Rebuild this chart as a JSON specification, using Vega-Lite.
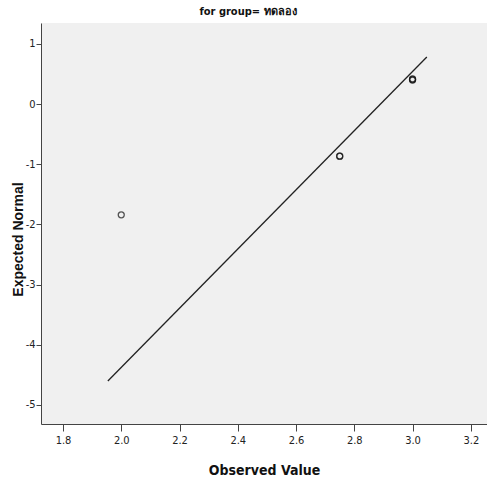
{
  "$schema": "https://vega.github.io/schema/vega-lite/v6.json",
  "width": 446,
  "height": 401,
  "autosize": {"type": "none"},
  "padding": {"left": 41, "top": 23, "right": 0, "bottom": 60},
  "background": "white",
  "config": {
    "view": {"fill": "#f0f0f0", "stroke": null},
    "axis": {"grid": false, "domainColor": "#444444", "tickColor": "#444444", "labelFont": "DejaVu Sans Condensed", "labelFontSize": 11, "labelColor": "#222222", "titleColor": "#111111"}
  },
  "title": {"text": "for group= ทดลอง", "font": "DejaVu Sans Condensed", "fontSize": 11, "fontWeight": "bold", "color": "#111111", "offset": 6, "dx": -16},
  "datasets": {
    "points": [
      {"observed": 2.0, "expected": -1.84},
      {"observed": 2.75, "expected": -0.865},
      {"observed": 2.75, "expected": -0.865},
      {"observed": 3.0, "expected": 0.42},
      {"observed": 3.0, "expected": 0.40},
      {"observed": 3.0, "expected": 0.41}
    ],
    "refline": [
      {"observed": 1.954, "expected": -4.6},
      {"observed": 3.049, "expected": 0.784}
    ]
  },
  "layer": [
    {
      "data": {"name": "refline"},
      "mark": {"type": "line", "color": "#222222", "strokeWidth": 1.3},
      "encoding": {
        "x": {"field": "observed", "type": "quantitative", "scale": {"domain": [1.7245, 3.2556], "nice": false, "zero": false},
          "axis": {"values": [1.8, 2.0, 2.2, 2.4, 2.6, 2.8, 3.0, 3.2], "format": ".1f", "tickSize": 7, "labelPadding": 3, "title": "Observed Value", "titleFont": "DejaVu Sans Condensed", "titleFontSize": 14, "titleFontWeight": "bold", "titlePadding": 18}},
        "y": {"field": "expected", "type": "quantitative", "scale": {"domain": [-5.316, 1.349], "nice": false, "zero": false},
          "axis": {"values": [-5, -4, -3, -2, -1, 0, 1], "labelExpr": "(datum.value < 0 ? '-' : '') + abs(datum.value)", "tickSize": 5, "labelPadding": 1, "title": "Expected Normal", "titleFont": "Liberation Sans", "titleFontSize": 14, "titleFontWeight": "bold", "titleX": -16, "titleY": 216}}
      }
    },
    {
      "data": {"name": "points"},
      "mark": {"type": "point", "shape": "circle", "filled": false, "color": "#111111", "size": 36, "strokeWidth": 1.3},
      "encoding": {
        "x": {"field": "observed", "type": "quantitative"},
        "y": {"field": "expected", "type": "quantitative"}
      }
    },
    {
      "mark": {"type": "rule", "color": "#444444", "strokeWidth": 1.5},
      "encoding": {"y": {"datum": 1.349}}
    }
  ]
}
